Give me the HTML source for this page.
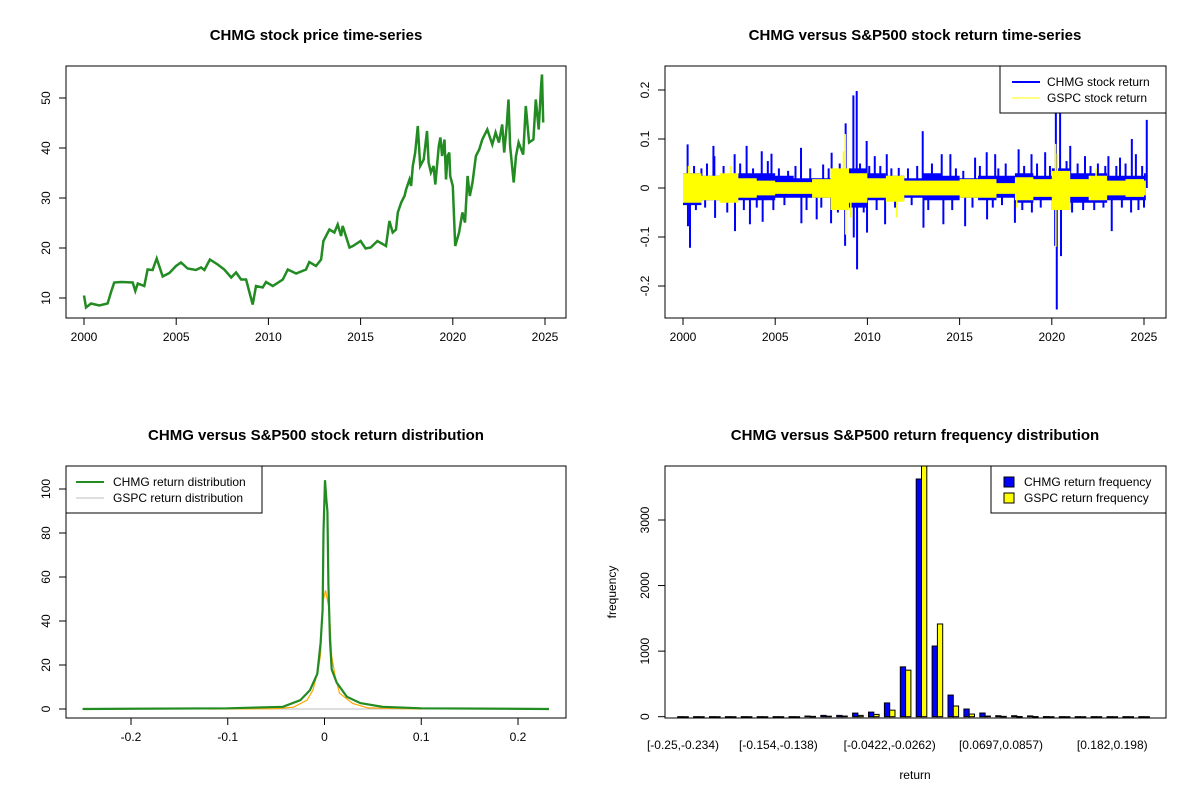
<!DOCTYPE html>
<html><head><meta charset="utf-8"><style>
body{margin:0;background:#fff;}
svg{display:block;font-family:"Liberation Sans",Arial,sans-serif;}
.t{font-size:15px;font-weight:bold;text-anchor:middle;}
.k{font-size:12px;}
</style></head><body>
<svg id="s" width="1200" height="800"></svg>
<script>
// ---- data: price series (year, price) ----
const priceYears=[2000.0,2000.11,2000.38,2000.83,2001.28,2001.46,2001.64,2002.0,2002.64,2002.78,2002.92,2003.27,2003.45,2003.72,2003.94,2004.27,2004.63,2004.99,2005.26,2005.62,2006.07,2006.35,2006.53,2006.83,2007.25,2007.61,2007.98,2008.25,2008.52,2008.79,2008.93,2009.15,2009.33,2009.69,2009.87,2010.24,2010.78,2011.05,2011.5,2012.04,2012.22,2012.58,2012.86,2012.98,2013.31,2013.58,2013.76,2013.94,2014.03,2014.4,2014.58,2015.0,2015.27,2015.55,2015.91,2016.38,2016.56,2016.74,2016.92,2017.02,2017.2,2017.38,2017.47,2017.65,2017.74,2017.83,2017.96,2018.1,2018.23,2018.42,2018.6,2018.69,2018.81,2018.96,2019.05,2019.24,2019.33,2019.42,2019.55,2019.63,2019.72,2019.81,2019.86,2020.0,2020.13,2020.34,2020.52,2020.66,2020.8,2020.92,2021.07,2021.25,2021.43,2021.6,2021.87,2022.14,2022.32,2022.5,2022.68,2022.79,2022.93,2023.02,2023.11,2023.3,2023.43,2023.57,2023.82,2023.96,2024.14,2024.37,2024.5,2024.66,2024.79,2024.84,2024.9];
const priceVals=[10.5,8.1,8.9,8.5,8.9,11.1,13.1,13.2,13.1,11.4,12.9,12.4,15.7,15.6,17.9,14.3,15.0,16.4,17.1,15.9,15.6,16.1,15.6,17.7,16.7,15.7,14.1,15.1,13.7,13.7,11.7,8.7,12.4,12.1,13.2,12.4,13.7,15.7,14.9,15.7,17.2,16.4,17.7,21.4,23.7,23.1,24.7,22.4,24.4,20.1,20.4,21.4,19.9,20.1,21.4,20.4,25.4,23.1,23.7,27.1,29.1,30.4,31.7,33.7,32.4,36.4,39.1,44.4,36.4,37.7,43.4,37.1,35.1,36.4,32.7,40.4,42.1,38.4,41.7,33.7,38.4,39.1,34.4,32.4,20.4,23.1,27.1,25.1,34.4,30.4,33.1,38.4,39.7,41.7,43.7,40.7,43.1,41.1,44.7,39.1,44.7,49.7,40.4,33.1,38.4,41.1,38.7,48.4,41.1,41.7,49.7,43.7,52.4,54.7,45.1,53.7];
// ---- data: returns (yearly core band + spikes) ----
const coreYears=[2000,2001,2002,2003,2004,2005,2006,2007,2008,2009,2010,2011,2012,2013,2014,2015,2016,2017,2018,2019,2020,2021,2022,2023,2024,2025];
const chmgHi=[0.03,0.025,0.025,0.03,0.03,0.025,0.02,0.02,0.03,0.04,0.03,0.025,0.02,0.03,0.025,0.02,0.025,0.025,0.03,0.025,0.04,0.03,0.03,0.025,0.025,0.03];
const chmgLo=[-0.035,-0.025,-0.025,-0.025,-0.025,-0.02,-0.02,-0.02,-0.035,-0.04,-0.025,-0.025,-0.02,-0.025,-0.025,-0.02,-0.025,-0.02,-0.03,-0.025,-0.045,-0.03,-0.03,-0.025,-0.025,-0.025];
const gspcHi=[0.03,0.025,0.03,0.02,0.015,0.012,0.012,0.018,0.04,0.03,0.02,0.025,0.015,0.015,0.015,0.018,0.018,0.01,0.022,0.018,0.035,0.018,0.025,0.015,0.018,0.015];
const gspcLo=[-0.03,-0.025,-0.03,-0.02,-0.015,-0.012,-0.012,-0.02,-0.045,-0.03,-0.02,-0.028,-0.015,-0.015,-0.015,-0.02,-0.02,-0.012,-0.025,-0.018,-0.045,-0.018,-0.025,-0.015,-0.018,-0.015];
const chmgSpikeYears=[2000.25,2001.65,2001.7,2002.8,2003.45,2004.27,2004.8,2006.4,2007.6,2008.06,2008.82,2009.24,2009.42,2009.96,2010.4,2011.05,2011.7,2013.0,2014.03,2014.5,2015.84,2016.47,2016.93,2018.2,2018.9,2019.64,2020.22,2020.45,2021.0,2021.8,2023.07,2023.7,2024.34,2024.56,2025.15,
 2000.38,2000.27,2001.74,2002.82,2003.63,2004.32,2006.42,2007.25,2008.03,2008.79,2009.26,2009.44,2009.98,2010.96,2013.04,2014.12,2015.3,2016.49,2018.0,2018.92,2020.27,2020.5,2020.18,2023.25,2024.7,
 2000.6,2001.0,2001.3,2002.2,2003.1,2003.8,2004.6,2005.2,2005.7,2006.1,2006.9,2007.9,2008.5,2009.6,2010.1,2010.7,2011.3,2012.2,2012.7,2013.5,2014.8,2015.2,2016.1,2017.1,2017.5,2018.5,2019.2,2019.9,2020.8,2021.4,2022.1,2022.5,2022.9,2023.5,2024.0,2024.9,
 2000.7,2001.2,2002.4,2003.3,2004.0,2004.9,2005.5,2006.7,2007.5,2008.4,2009.8,2010.5,2011.5,2012.4,2013.3,2014.6,2015.7,2016.8,2017.3,2018.4,2019.4,2021.1,2021.7,2022.3,2022.8,2023.8,2024.3,2025.0];
const chmgSpikeVals=[0.089,0.086,0.065,0.069,0.086,0.075,0.07,0.082,0.048,0.072,0.132,0.189,0.198,0.096,0.065,0.069,0.041,0.116,0.069,0.069,0.062,0.073,0.069,0.079,0.069,0.073,0.164,0.154,0.086,0.065,0.065,0.062,0.1,0.069,0.139,
 -0.122,-0.078,-0.061,-0.088,-0.074,-0.069,-0.072,-0.064,-0.072,-0.118,-0.101,-0.166,-0.091,-0.074,-0.081,-0.074,-0.078,-0.064,-0.071,-0.05,-0.248,-0.139,-0.118,-0.088,-0.045,
 0.045,0.04,0.05,0.045,0.05,0.04,0.055,0.04,0.035,0.045,0.04,0.04,0.05,0.05,0.045,0.045,0.04,0.04,0.045,0.05,0.04,0.035,0.045,0.04,0.05,0.045,0.05,0.045,0.055,0.05,0.045,0.05,0.045,0.045,0.05,0.045,
 -0.045,-0.04,-0.05,-0.045,-0.04,-0.045,-0.035,-0.045,-0.04,-0.05,-0.05,-0.045,-0.04,-0.035,-0.045,-0.045,-0.04,-0.04,-0.035,-0.045,-0.04,-0.05,-0.045,-0.045,-0.04,-0.04,-0.05,-0.04];
const gspcSpikeYears=[2008.8,2008.82,2009.1,2020.2,2020.22,2020.3,2000.3,2002.6,2008.7,2011.6,2018.1,2022.4];
const gspcSpikeVals=[0.11,-0.095,-0.06,0.09,-0.12,0.07,0.045,0.045,0.075,-0.06,-0.04,0.04];
// ---- data: densities ----
const chmgDensX=[-0.25,-0.1,-0.043,-0.025,-0.015,-0.0074,-0.004,-0.002,-0.001,0.0005,0.002,0.003,0.004,0.0057,0.0074,0.0126,0.023,0.037,0.06,0.1,0.232];
const chmgDensY=[0,0.3,1,4,8.6,16,30,45,80.6,104,95,90,57,31,18,12,5.6,2.7,1,0.3,0];
const gspcDensX=[-0.12,-0.05,-0.032,-0.018,-0.012,-0.0064,-0.004,-0.002,0.001,0.005,0.0074,0.011,0.0155,0.029,0.045,0.1];
const gspcDensY=[0,0.2,0.8,4,8.6,18,25,48,54,45,24,15,7.2,2.5,0.5,0];
// ---- data: histogram ----
const binLabels=["[-0.25,-0.234)","[-0.154,-0.138)","[-0.0422,-0.0262)","[0.0697,0.0857)","[0.182,0.198)"];
const binLabelIdx=[0,6,13,20,27];
const chmgFreq=[1,1,1,1,1,1,1,1,10,20,20,55,70,210,760,3625,1078,330,117,56,15,15,12,2,1,1,1,1,1,1];
const gspcFreq=[0,0,0,0,0,0,0,0,5,8,10,20,35,100,710,3830,1414,163,40,10,5,3,2,0,0,0,0,0,0,0];
const freqTicks=[0,1000,2000,3000];

const svg=document.getElementById('s');
const NS='http://www.w3.org/2000/svg';
function el(tag,attrs,parent,text){const e=document.createElementNS(NS,tag);for(const k in attrs)e.setAttribute(k,attrs[k]);if(text!==undefined)e.textContent=text;(parent||svg).appendChild(e);return e;}
function grp(name){const g=el('g',{});return g;}
function box(g,x0,y0,x1,y1){el('rect',{x:x0,y:y0,width:x1-x0,height:y1-y0,fill:'none',stroke:'#000','stroke-width':1},g);}
function xtick(g,x,y,lab,ly){el('line',{x1:x,x2:x,y1:y,y2:y+7,stroke:'#000'},g);el('text',{x:x,y:ly,'text-anchor':'middle',class:'k'},g,lab);}
function ytick(g,x,y,lab){el('line',{x1:x-7,x2:x,y1:y,y2:y,stroke:'#000'},g);el('text',{x:x-16,y:y,'text-anchor':'middle',class:'k',transform:`rotate(-90 ${x-16} ${y})`},g,lab);}

// ===== Panel 1: price =====
{const g=grp('price-panel');
const X=y=>84+(y-2000)*(545-84)/25, Y=v=>298-(v-10)*5;
el('text',{x:316,y:40,class:'t'},g,'CHMG stock price time-series');
let d=priceYears.map((y,i)=>(i?'L':'M')+X(y).toFixed(1)+','+Y(priceVals[i]).toFixed(1)).join('');
const p=el('path',{d:d,fill:'none',stroke:'#228B22','stroke-width':2.5},g);

box(g,66,66,566,318);
el('line',{x1:X(2000),x2:X(2025),y1:318,y2:318,stroke:'#000'},g);
for(let y=2000;y<=2025;y+=5)xtick(g,X(y),318,String(y),341);
el('line',{x1:66,x2:66,y1:Y(10),y2:Y(50),stroke:'#000'},g);
for(let v=10;v<=50;v+=10)ytick(g,66,Y(v),String(v));}

// ===== Panel 2: returns =====
{const g=grp('return-panel');
const X=y=>683+(y-2000)*(1144-683)/25, Y=v=>188-v*490;
el('text',{x:915,y:40,class:'t'},g,'CHMG versus S&P500 stock return time-series');
function band(hi,lo,col,name){let top='',bot='';coreYears.forEach((y,i)=>{const x0=X(y),x1=X(Math.min(y+1,2025.1));top+=`L${x0},${Y(hi[i])}L${x1},${Y(hi[i])}`;});
for(let i=coreYears.length-1;i>=0;i--){const y=coreYears[i];const x0=X(y),x1=X(Math.min(y+1,2025.1));bot+=`L${x1},${Y(lo[i])}L${x0},${Y(lo[i])}`;}
const p=el('path',{d:'M'+top.slice(1)+bot+'Z',fill:col},g);}
band(chmgHi,chmgLo,'#0000FF','chmg-return-band');
chmgSpikeYears.forEach((y,i)=>{const l=el('line',{x1:X(y),x2:X(y),y1:Y(0),y2:Y(chmgSpikeVals[i]),stroke:'#0000FF','stroke-width':2},g);});
band(gspcHi,gspcLo,'#FFFF00','gspc-return-band');
gspcSpikeYears.forEach((y,i)=>{const l=el('line',{x1:X(y),x2:X(y),y1:Y(0),y2:Y(gspcSpikeVals[i]),stroke:'#FFFF00','stroke-width':1.5},g);});
box(g,665,66,1166,318);
for(let y=2000;y<=2025;y+=5)xtick(g,X(y),318,String(y),341);
el('line',{x1:665,x2:665,y1:Y(-0.2),y2:Y(0.2),stroke:'#000'},g);
[-0.2,-0.1,0,0.1,0.2].forEach(v=>ytick(g,665,Y(v),String(v)));
const lg=el('g',{},g);
el('rect',{x:1000,y:66,width:166,height:47,fill:'#fff',stroke:'#000'},lg);
el('line',{x1:1012,x2:1040,y1:82,y2:82,stroke:'#0000FF','stroke-width':2},lg);
el('line',{x1:1012,x2:1040,y1:98,y2:98,stroke:'#FFFF00','stroke-width':1},lg);
el('text',{x:1047,y:86,class:'k'},lg,'CHMG stock return');
el('text',{x:1047,y:102,class:'k'},lg,'GSPC stock return');}

// ===== Panel 3: density =====
{const g=grp('density-panel');
const X=v=>324.5+v*967.5, Y=d=>709-d*2.2;
el('text',{x:316,y:440,class:'t'},g,'CHMG versus S&P500 stock return distribution');
el('line',{x1:X(-0.25),x2:X(0.232),y1:Y(0),y2:Y(0),stroke:'#BEBEBE'},g);
let d2=gspcDensX.map((x,i)=>(i?'L':'M')+X(x).toFixed(1)+','+Y(gspcDensY[i]).toFixed(1)).join('');
const po=el('path',{d:d2,fill:'none',stroke:'#FFA500','stroke-width':1.2},g);
let d1=chmgDensX.map((x,i)=>(i?'L':'M')+X(x).toFixed(1)+','+Y(chmgDensY[i]).toFixed(1)).join('');
const pg=el('path',{d:d1,fill:'none',stroke:'#228B22','stroke-width':2.2},g);
box(g,66,466,566,718);
el('line',{x1:X(-0.2),x2:X(0.2),y1:718,y2:718,stroke:'#000'},g);
[-0.2,-0.1,0,0.1,0.2].forEach(v=>xtick(g,X(v),718,String(v),741));
el('line',{x1:66,x2:66,y1:Y(0),y2:Y(100),stroke:'#000'},g);
for(let v=0;v<=100;v+=20)ytick(g,66,Y(v),String(v));
const lg=el('g',{},g);
el('rect',{x:66,y:466,width:196,height:47,fill:'#fff',stroke:'#000'},lg);
el('line',{x1:76,x2:104,y1:482,y2:482,stroke:'#228B22','stroke-width':2},lg);
el('line',{x1:76,x2:104,y1:498,y2:498,stroke:'#BEBEBE','stroke-width':1},lg);
el('text',{x:113,y:486,class:'k'},lg,'CHMG return distribution');
el('text',{x:113,y:502,class:'k'},lg,'GSPC return distribution');}

// ===== Panel 4: histogram =====
{const g=grp('histogram-panel');
const C=k=>683+k*15.9, W=5.3, Y=f=>716.7-f*0.06557;
el('text',{x:915,y:440,class:'t'},g,'CHMG versus S&P500 return frequency distribution');
chmgFreq.forEach((f,k)=>{const r=el('rect',{x:C(k)-W,y:Y(f),width:W,height:Math.max(716.7-Y(f),0.5),fill:'#0000FF',stroke:'#000','stroke-width':1},g);});
gspcFreq.forEach((f,k)=>{const h=Math.min(716.7-Y(f),250.7);const r=el('rect',{x:C(k),y:716.7-h,width:W,height:Math.max(h,0.5),fill:'#FFFF00',stroke:'#000','stroke-width':1},g);});
box(g,665,466,1166,718);
binLabelIdx.forEach((k,i)=>el('text',{x:C(k),y:749,'text-anchor':'middle',class:'k'},g,binLabels[i]));
el('line',{x1:665,x2:665,y1:Y(0),y2:Y(3000),stroke:'#000'},g);
freqTicks.forEach(v=>ytick(g,665,Y(v),String(v)));
el('text',{x:915,y:779,'text-anchor':'middle',class:'k'},g,'return');
el('text',{x:616,y:592,'text-anchor':'middle',class:'k',transform:'rotate(-90 616 592)'},g,'frequency');
const lg=el('g',{},g);
el('rect',{x:991,y:466,width:175,height:47,fill:'#fff',stroke:'#000'},lg);
el('rect',{x:1004,y:477,width:10,height:10,fill:'#0000FF',stroke:'#000'},lg);
el('rect',{x:1004,y:493,width:10,height:10,fill:'#FFFF00',stroke:'#000'},lg);
el('text',{x:1024,y:486,class:'k'},lg,'CHMG return frequency');
el('text',{x:1024,y:502,class:'k'},lg,'GSPC return frequency');}
</script>
</body></html>
